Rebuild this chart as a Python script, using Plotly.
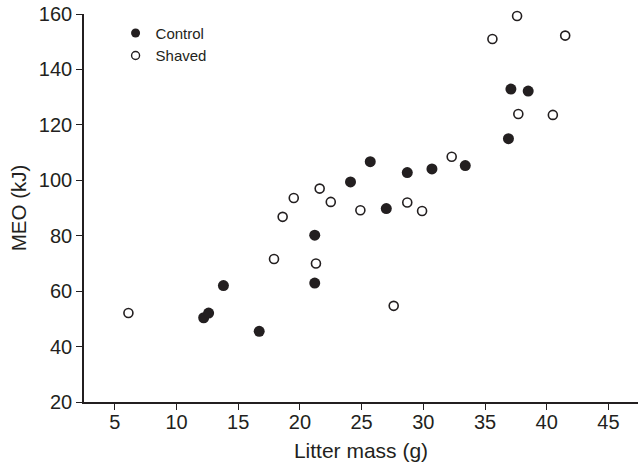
import plotly.graph_objects as go

# Control (filled) and Shaved (open) litter mass (g) vs MEO (kJ)
control_mass = [12.2, 12.6, 13.8, 16.7, 21.2, 21.2, 24.1, 25.7, 27.0, 28.7, 30.7, 33.4, 36.9, 37.1, 38.5]
control_meo = [50.4, 52.1, 62.0, 45.5, 80.2, 62.9, 99.4, 106.7, 89.8, 102.8, 104.1, 105.3, 115.0, 132.9, 132.2]

shaved_mass = [6.1, 17.9, 18.6, 19.5, 21.3, 21.6, 22.5, 24.9, 27.6, 28.7, 29.9, 32.3, 35.6, 37.6, 37.7, 40.5, 41.5]
shaved_meo = [52.1, 71.6, 86.8, 93.6, 70.0, 97.0, 92.2, 89.2, 54.7, 92.0, 88.9, 108.5, 151.0, 159.3, 123.9, 123.6, 152.2]

x_ticks = [5, 10, 15, 20, 25, 30, 35, 40, 45]
y_ticks = [20, 40, 60, 80, 100, 120, 140, 160]

INK = "#231f20"
FONT = "Liberation Sans, Arial, sans-serif"

fig = go.Figure()
fig.add_trace(go.Scatter(
    x=control_mass, y=control_meo, mode="markers", name="Control", showlegend=False,
    marker=dict(size=11, color=INK, line=dict(width=0)), cliponaxis=False,
))
fig.add_trace(go.Scatter(
    x=shaved_mass, y=shaved_meo, mode="markers", name="Shaved", showlegend=False,
    marker=dict(size=9, color="white", line=dict(width=1.6, color=INK)), cliponaxis=False,
))
# legend-only entries (smaller symbols, as in the reference key)
fig.add_trace(go.Scatter(
    x=[None], y=[None], mode="markers", name="Control",
    marker=dict(size=9, color=INK, line=dict(width=0)),
))
fig.add_trace(go.Scatter(
    x=[None], y=[None], mode="markers", name="Shaved",
    marker=dict(size=8, color="white", line=dict(width=1.4, color=INK)),
))

fig.update_layout(
    width=638, height=469,
    margin=dict(l=84, r=0, t=14, b=67, autoexpand=False),
    paper_bgcolor="white", plot_bgcolor="white",
    font=dict(family=FONT, size=20, color=INK),
    showlegend=True,
    legend=dict(
        x=0.057, y=0.993, xanchor="left", yanchor="top",
        bgcolor="rgba(0,0,0,0)", font=dict(size=15, color=INK),
        itemsizing="trace", tracegroupgap=0,
    ),
    xaxis=dict(
        range=[2.5, 47.4], tickvals=x_ticks, ticktext=[str(v) for v in x_ticks],
        showgrid=False, zeroline=False, showline=True, linecolor=INK, linewidth=1.6,
        ticks="outside", ticklen=6, tickwidth=1.4, tickcolor=INK, automargin=False,
        tickfont=dict(size=20), ticklabelstandoff=-5,
        title=dict(text="Litter mass (g)", font=dict(size=21), standoff=12),
    ),
    yaxis=dict(
        range=[20, 160], tickvals=y_ticks, ticktext=[str(v) for v in y_ticks],
        showgrid=False, zeroline=False, showline=True, linecolor=INK, linewidth=1.6,
        ticks="outside", ticklen=6, tickwidth=1.4, tickcolor=INK, automargin=False,
        tickfont=dict(size=20), ticklabelstandoff=0,
        title=dict(text="MEO (kJ)", font=dict(size=20.5), standoff=7),
    ),
)

fig.write_html(
    "out.html",
    config={"displayModeBar": False},
    post_script="document.body.style.margin='0';document.body.style.overflow='hidden';",
)
